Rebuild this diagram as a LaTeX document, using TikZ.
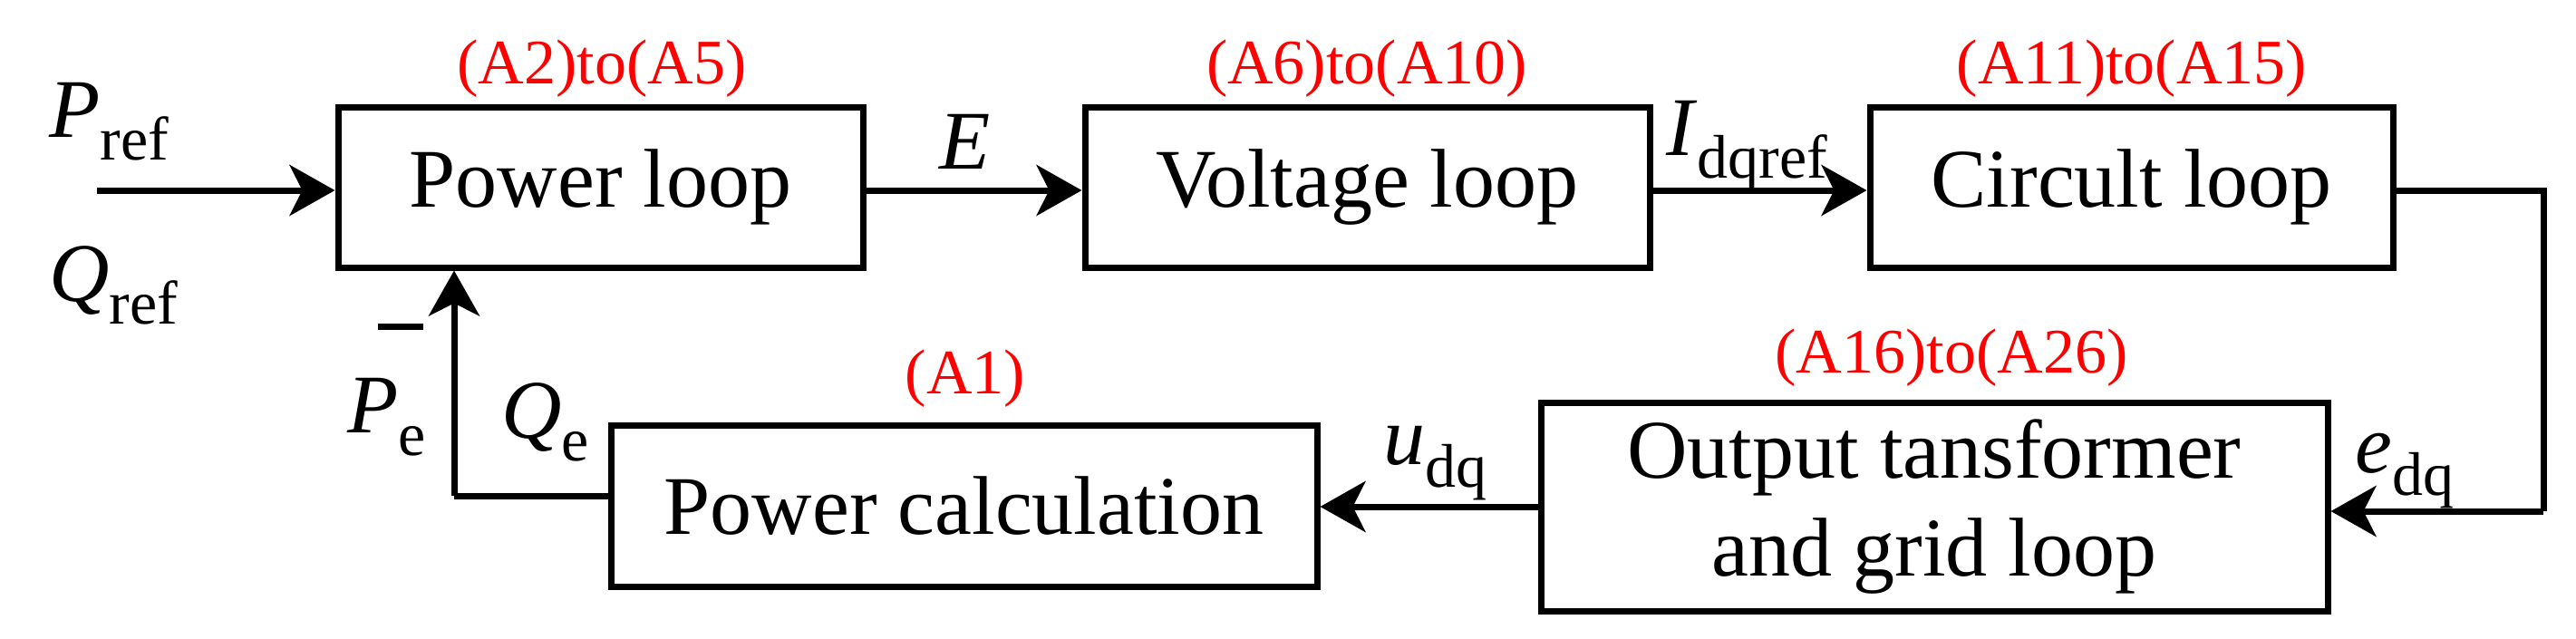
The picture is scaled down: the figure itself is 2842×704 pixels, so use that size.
\documentclass[tikz,border=0pt]{standalone}
\usepackage{fontspec}
\setmainfont{Liberation Serif}
\usetikzlibrary{arrows.meta}
\newcommand\vsub[2]{\textit{#1}\raisebox{-0.28em}{\fontsize{68}{70}\selectfont #2}}
\begin{document}
\begin{tikzpicture}[x=1pt,y=-1pt,
  blk/.style={draw,line width=7pt,minimum height=177pt,inner sep=0pt,font=\fontsize{92}{108}\selectfont,align=center},
  red/.style={text=red,font=\fontsize{70}{80}\selectfont,inner sep=0pt},
  lab/.style={font=\fontsize{92}{100}\selectfont,inner sep=0pt,anchor=base west},
  arr/.style={line width=7pt,-{Stealth[length=50pt,width=56pt,inset=14pt]}},
  ln/.style={line width=7pt}]
\useasboundingbox (0,0) rectangle (2842,704);
\node[blk,minimum width=579pt] (pl) at (662.5,206.5) {Power loop};
\node[blk,minimum width=623pt] (vl) at (1508.5,206.5) {Voltage loop};
\node[blk,minimum width=577pt] (cl) at (2351.5,206.5) {Circult loop};
\node[blk,minimum width=868pt,minimum height=230pt] (ot) at (2134,559) {Output tansformer\\and grid loop};
\node[blk,minimum width=779pt,minimum height=178pt] (pc) at (1063.5,558) {Power calculation};
\node[red] (r1) at (664,76) {(A2)to(A5)};
\node[red] (r2) at (1508,76) {(A6)to(A10)};
\node[red] (r3) at (2352,76) {(A11)to(A15)};
\node[red] (r4) at (2153,395) {(A16)to(A26)};
\node[red] (r5) at (1065,418) {(A1)};
\coordinate (in) at (107,210);
\draw[arr] (in) -- (in -| pl.west);
\node[lab] (pref) at (54,151) {\vsub{P}{ref}};
\node[lab] (qref) at (54,332) {\vsub{Q}{ref}};
\draw[arr] (pl.east |- 0,210) -- (vl.west |- 0,210);
\node[lab] (e) at (1036,186) {\textit{E}};
\draw[arr] (vl.east |- 0,210) -- (cl.west |- 0,210);
\node[lab] (i) at (1838,171) {\vsub{I}{dqref}};
\coordinate (c1) at (2806,210);
\coordinate (c2) at (2806,564);
\draw[ln] (cl.east |- c1) -- (c1) -- (c2);
\draw[arr] (c2) -- (ot.east |- c2);
\node[lab] (edq) at (2598,521) {\vsub{e}{dq}};
\draw[arr] (ot.west |- 0,559) -- (pc.east |- 0,559);
\node[lab] (udq) at (1526,512) {\vsub{u}{dq}};
\coordinate (f1) at (501,547);
\draw[ln] (pc.west |- f1) -- (f1);
\draw[arr] (f1) -- (f1 |- pl.south);
\node[lab] (pe) at (383,477) {\vsub{P}{e}};
\node[lab] (qe) at (553,483) {\vsub{Q}{e}};
\draw[line width=7pt] (417,360) coordinate (m1) -- (467,360) coordinate (m2);
\end{tikzpicture}
\end{document}
